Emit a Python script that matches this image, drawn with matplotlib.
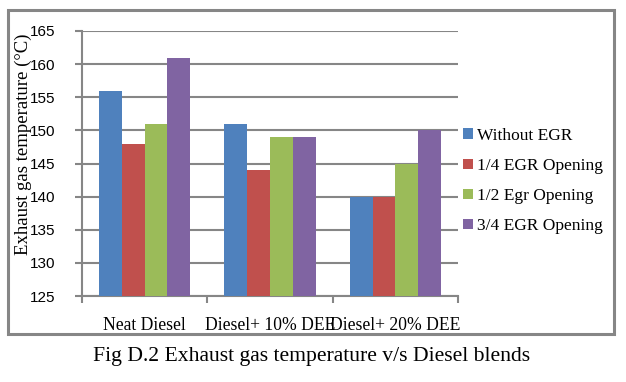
import matplotlib
matplotlib.use("Agg")
import matplotlib.pyplot as plt
from matplotlib.patches import Rectangle
import numpy as np

categories = ["Neat Diesel", "Diesel+ 10% DEE", "Diesel+ 20% DEE"]
series_names = ["Without EGR", "1/4 EGR Opening", "1/2 Egr Opening", "3/4 EGR Opening"]
without_egr = [156, 151, 140]
egr_quarter = [148, 144, 140]
egr_half = [151, 149, 145]
egr_three_quarter = [161, 149, 150]
yticks = [125, 130, 135, 140, 145, 150, 155, 160, 165]

colors = ["#4F81BD", "#C0504D", "#9BBB59", "#8064A2"]
serif = "Liberation Serif"
sans = "Liberation Sans"

fig = plt.figure(figsize=(6.26, 3.82), dpi=100)
fig.patch.set_facecolor("white")

# outer chart frame
fig.patches.append(Rectangle((8/626, 1-334/382), 606/626, 324/382,
                             transform=fig.transFigure, fill=False,
                             edgecolor="#868686", linewidth=2.2, zorder=0))

ax = fig.add_axes([82/626, 1-296/382, 376/626, 265/382])
data = [without_egr, egr_quarter, egr_half, egr_three_quarter]
x = np.arange(len(categories))
bw = 0.727/4
for i, (vals, c, name) in enumerate(zip(data, colors, series_names)):
    ax.bar(x + (i-1.5)*bw, np.array(vals) - 125, bottom=125, width=bw,
           color=c, label=name, zorder=3, linewidth=0)

ax.set_xlim(-0.5, 2.5)
ax.set_ylim(125, 165)
ax.set_yticks(yticks)
ax.set_yticklabels([str(t) for t in yticks], fontfamily=sans, fontsize=11)
ax.yaxis.grid(True, color="#868686", linewidth=1.5, zorder=0)
ax.set_axisbelow(True)
for s in ["top", "right"]:
    ax.spines[s].set_visible(False)
for s in ["left", "bottom"]:
    ax.spines[s].set_color("#868686")
    ax.spines[s].set_linewidth(1.5)
ax.tick_params(axis="y", length=5, width=1.5, color="#868686", pad=14)

ax.set_xticks([-0.5, 0.5, 1.5, 2.5])
ax.set_xticklabels([])
ax.tick_params(axis="x", length=5, width=1.5, color="#868686")
for xi, lab in zip(x, categories):
    xfig = fig.transFigure.inverted().transform(ax.transData.transform((xi, 125)))[0]
    fig.text(xfig, 1-325/382, lab, ha="center", va="center",
             fontfamily=serif, fontsize=12.7)

fig.text(23/626, 1-144/382, "Exhaust gas temperature (°C)", rotation=90,
         ha="center", va="center", fontfamily=serif, fontsize=13.5)

leg = ax.legend(loc="center left", bbox_to_anchor=(1.0, (296-181)/265), frameon=False,
                prop={"family": serif, "size": 12.5}, handlelength=0.55,
                handleheight=0.55, handletextpad=0.25, labelspacing=0.82,
                borderaxespad=0.0, borderpad=0.3)

fig.text(312/626, 1-357/382, "Fig D.2 Exhaust gas temperature v/s Diesel blends",
         ha="center", va="center", fontfamily=serif, fontsize=15.6)

fig.savefig("out.png", dpi=100)
